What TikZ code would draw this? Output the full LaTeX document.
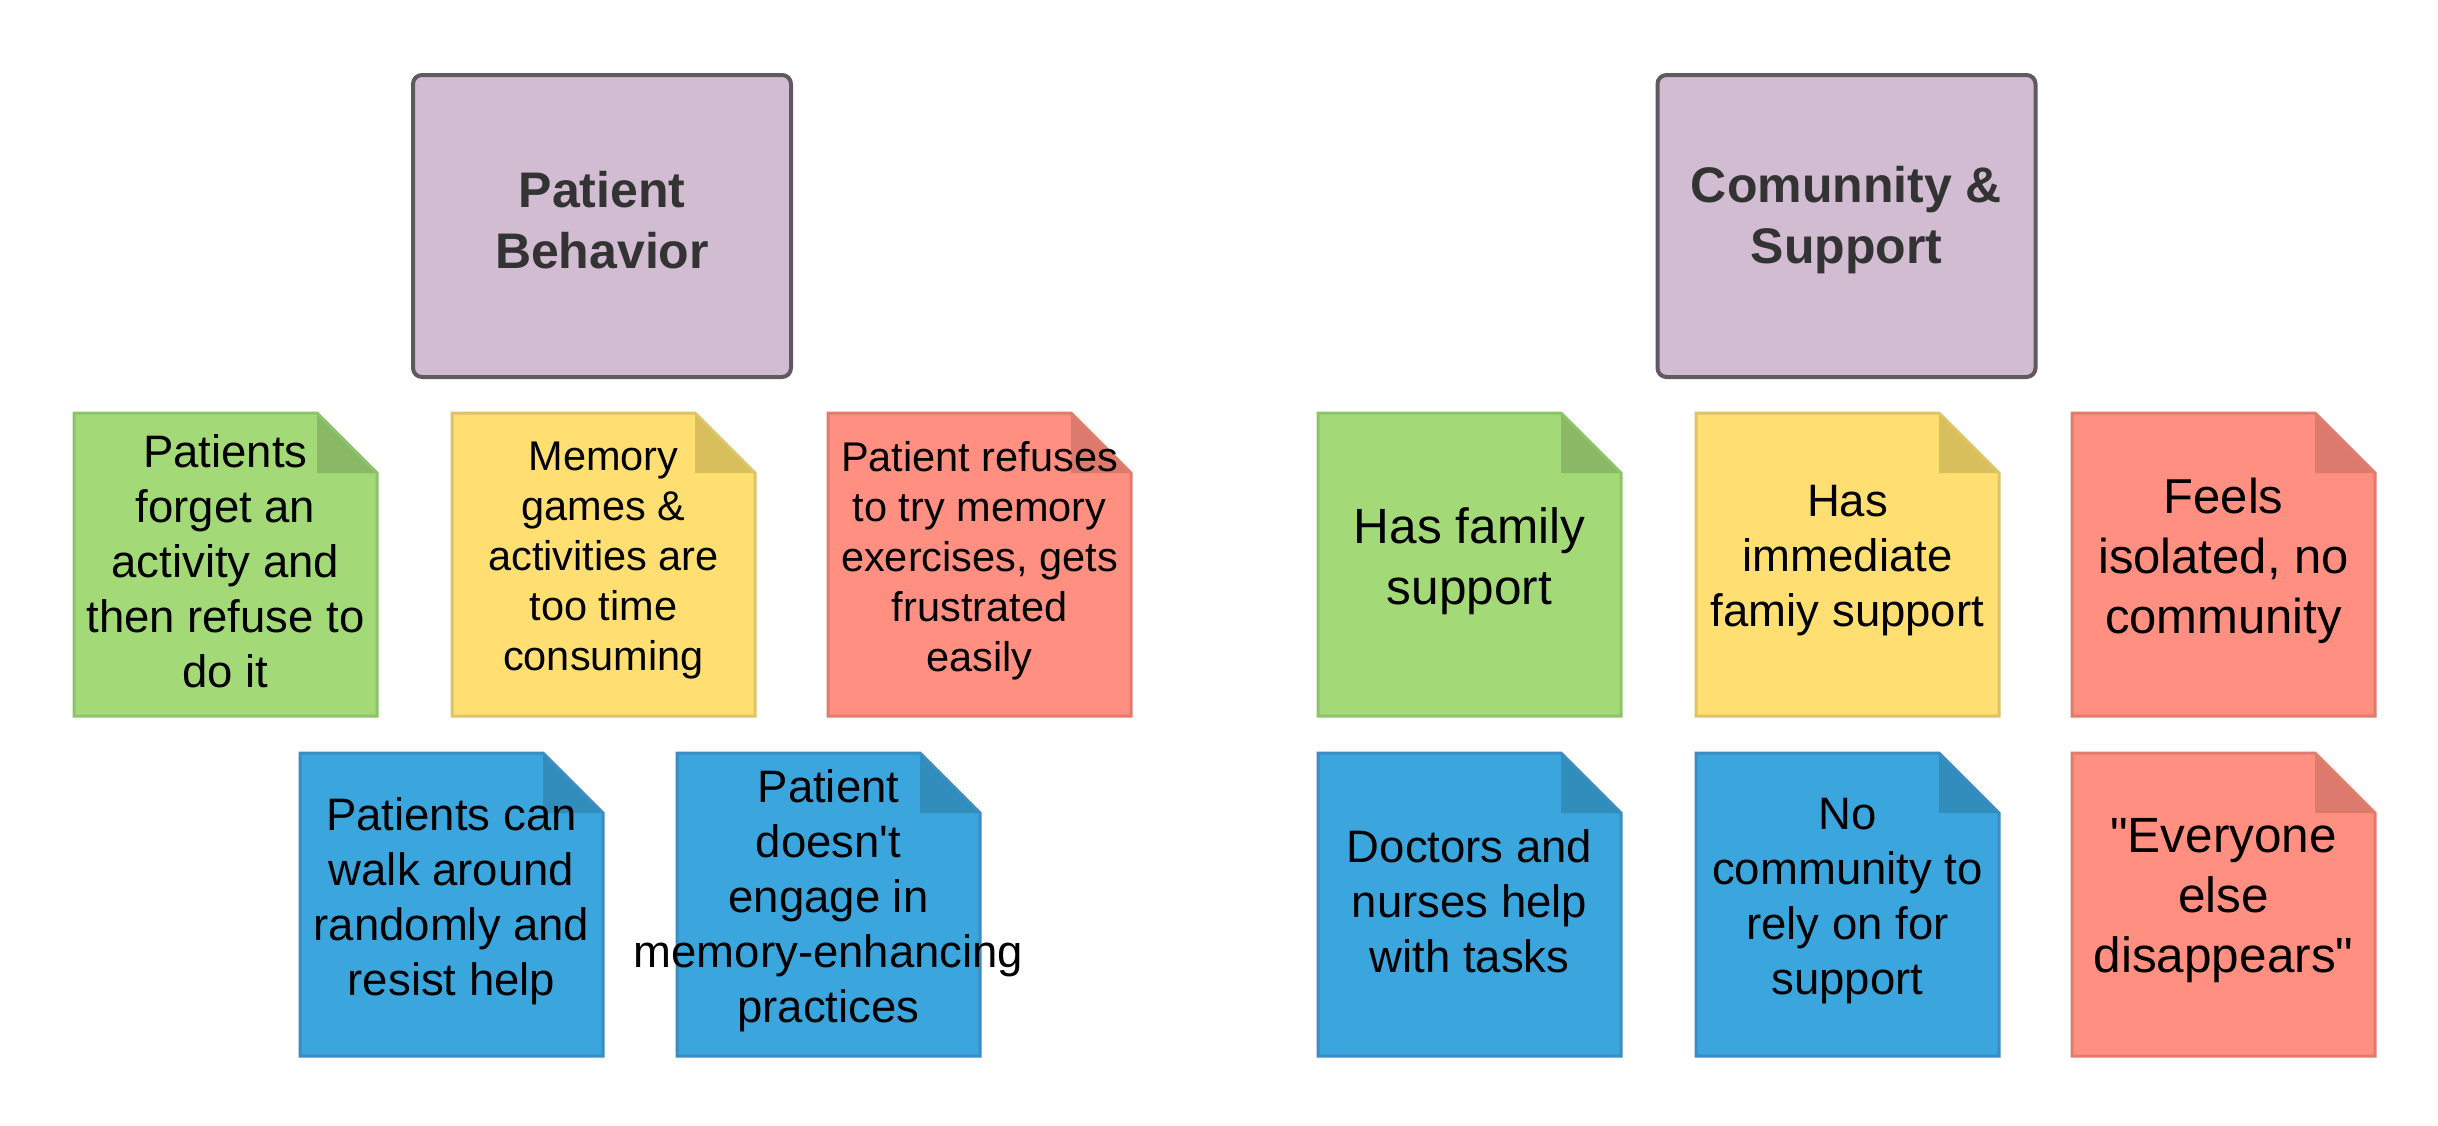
\documentclass[tikz,border=0pt]{standalone}
\usepackage{fontspec}
\setmainfont{Liberation Sans}
\definecolor{gfill}{HTML}{A3D977}\definecolor{gline}{HTML}{8CC46A}\definecolor{gfold}{HTML}{8BB865}
\definecolor{yfill}{HTML}{FFDF71}\definecolor{yline}{HTML}{DDC467}\definecolor{yfold}{HTML}{D9BE5C}
\definecolor{rfill}{HTML}{FF8F80}\definecolor{rline}{HTML}{E27B6E}\definecolor{rfold}{HTML}{DB7A6D}
\definecolor{bfill}{HTML}{3AA6DD}\definecolor{bline}{HTML}{3A8CC2}\definecolor{bfold}{HTML}{318DBC}
\definecolor{pfill}{HTML}{D1BCD2}\definecolor{pline}{HTML}{5F5A60}
\definecolor{ttext}{HTML}{333333}
\newcommand\notebox[7]{%
  \fill[#4fill] (#2,#3) -- ++(243,0) -- ++(60,60) -- ++(0,243) -- ++(-303,0) -- cycle;
  \fill[#4fold] (#2+243,#3) -- ++(0,60) -- ++(60,0) -- cycle;
  \draw[#4line, line width=3, line join=miter] (#2,#3) -- ++(243,0) -- ++(60,60) -- ++(0,243) -- ++(-303,0) -- cycle;
  \node[notetext, font=\fontsize{#5}{#6}\selectfont] (#1) at (#2+151.5,#3+148) {#7};
}
\begin{document}
\begin{tikzpicture}[x=1pt,y=-1pt,
  notetext/.style={align=center, inner sep=0pt, text=black},
  titlebox/.style={draw=pline, fill=pfill, line width=4, rounded corners=9, minimum width=378, minimum height=302, inner sep=0pt},
  titletext/.style={align=center, inner sep=0pt, text=ttext, font=\fontsize{50}{61}\selectfont\bfseries}]
\useasboundingbox (0,0) rectangle (2438,1125);
\fill[white] (0,0) rectangle (2438,1125);
\node[titlebox] (pb) at (602,226) {};
\node[titletext] (pbt) at ([yshift=6pt]pb.center) {Patient\\Behavior};
\node[titlebox] (cs) at (1846.5,226) {};
\node[titletext] (cst) at ([yshift=6pt]cs.center) {Comunnity \&\\Support};
% left group
\notebox{n1}{74}{413}{g}{45.5}{55}{Patients\\forget an\\activity and\\then refuse to\\do it}
\notebox{n2}{452}{413}{y}{41.5}{50}{Memory\\games \&\\activities are\\too time\\consuming}
\notebox{n3}{828}{413}{r}{41.5}{50}{Patient refuses\\to try memory\\exercises, gets\\frustrated\\easily}
\notebox{n4}{300}{753}{b}{45.5}{55}{Patients can\\walk around\\randomly and\\resist help}
\notebox{n5}{677}{753}{b}{45.5}{55}{Patient\\doesn\textquotesingle t\\engage in\\memory-enhancing\\practices}
% right group
\notebox{m1}{1318}{413}{g}{49.5}{61}{Has family\\support}
\notebox{m2}{1696}{413}{y}{45.5}{55}{Has\\immediate\\famiy support}
\notebox{m3}{2072}{413}{r}{49}{60}{Feels\\isolated, no\\community}
\notebox{m4}{1318}{753}{b}{45.5}{55}{Doctors and\\nurses help\\with tasks}
\notebox{m5}{1696}{753}{b}{45.5}{55}{No\\community to\\rely on for\\support}
\notebox{m6}{2072}{753}{r}{49.5}{60}{\textquotedbl Everyone\\else\\disappears\textquotedbl}
\end{tikzpicture}
\end{document}
